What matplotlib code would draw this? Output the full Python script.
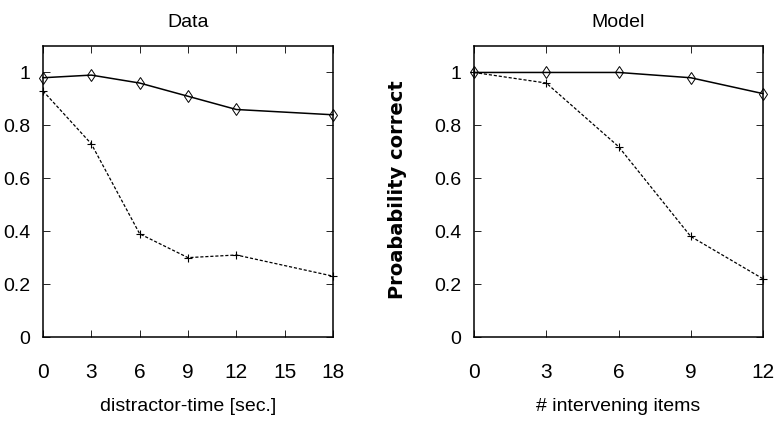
import matplotlib
matplotlib.use("Agg")
import matplotlib.pyplot as plt

# recall data vs. model
DATA_X      = [0, 3, 6, 9, 12, 18]
DATA_SOLID  = [0.98, 0.99, 0.96, 0.91, 0.86, 0.84]
DATA_DASHED = [0.93, 0.73, 0.39, 0.30, 0.31, 0.23]
DATA_XTICKS = [0, 3, 6, 9, 12, 15, 18]

MODEL_X      = [0, 3, 6, 9, 12]
MODEL_SOLID  = [1.00, 1.00, 1.00, 0.98, 0.92]
MODEL_DASHED = [1.00, 0.96, 0.72, 0.38, 0.22]

YTICKS      = [0, 0.2, 0.4, 0.6, 0.8, 1.0]
YTICKLABELS = ["0", "0.2", "0.4", "0.6", "0.8", "1"]

plt.rcParams["font.family"] = ["Liberation Sans", "DejaVu Sans"]

fig = plt.figure(figsize=(7.76, 4.25), dpi=100)
W, H = 776, 425
ax_l = fig.add_axes([43 / W, 1 - 337 / H, 290 / W, 291 / H])
ax_r = fig.add_axes([474 / W, 1 - 337 / H, 289 / W, 291 / H])


def draw(ax, x, solid, dashed, xticks, title, xlabel):
    ax.plot(x, solid, color="black", linewidth=1.1, marker="d", markersize=6,
            markerfacecolor="none", markeredgewidth=0.7, clip_on=False, zorder=3)
    ax.plot(x, dashed, color="black", linewidth=0.9, dashes=(2.5, 1.5), marker="+",
            markersize=6, markeredgewidth=0.8, clip_on=False, zorder=3)
    ax.set_xlim(xticks[0], xticks[-1])
    ax.set_ylim(0, 1.1)
    ax.set_xticks(xticks)
    ax.set_yticks(YTICKS)
    ax.set_yticklabels(YTICKLABELS)
    ax.tick_params(direction="in", top=True, right=True, length=5, width=0.6)
    ax.tick_params(axis="x", pad=19, labelsize=15)
    ax.tick_params(axis="y", pad=9, labelsize=14)
    for s in ax.spines.values():
        s.set_linewidth(1.1)
    ax.set_title(title, fontsize=14, pad=14)
    ax.set_xlabel(xlabel, fontsize=14, labelpad=11)


draw(ax_l, DATA_X, DATA_SOLID, DATA_DASHED, DATA_XTICKS, "Data", "distractor-time [sec.]")
draw(ax_r, MODEL_X, MODEL_SOLID, MODEL_DASHED, MODEL_X, "Model", "# intervening items")

fig.text(398 / W, 1 - 190 / H, "Proabability correct", rotation=90, ha="center",
         va="center", fontsize=14, fontweight="bold", family="DejaVu Sans")

fig.savefig("out.png", dpi=100)
